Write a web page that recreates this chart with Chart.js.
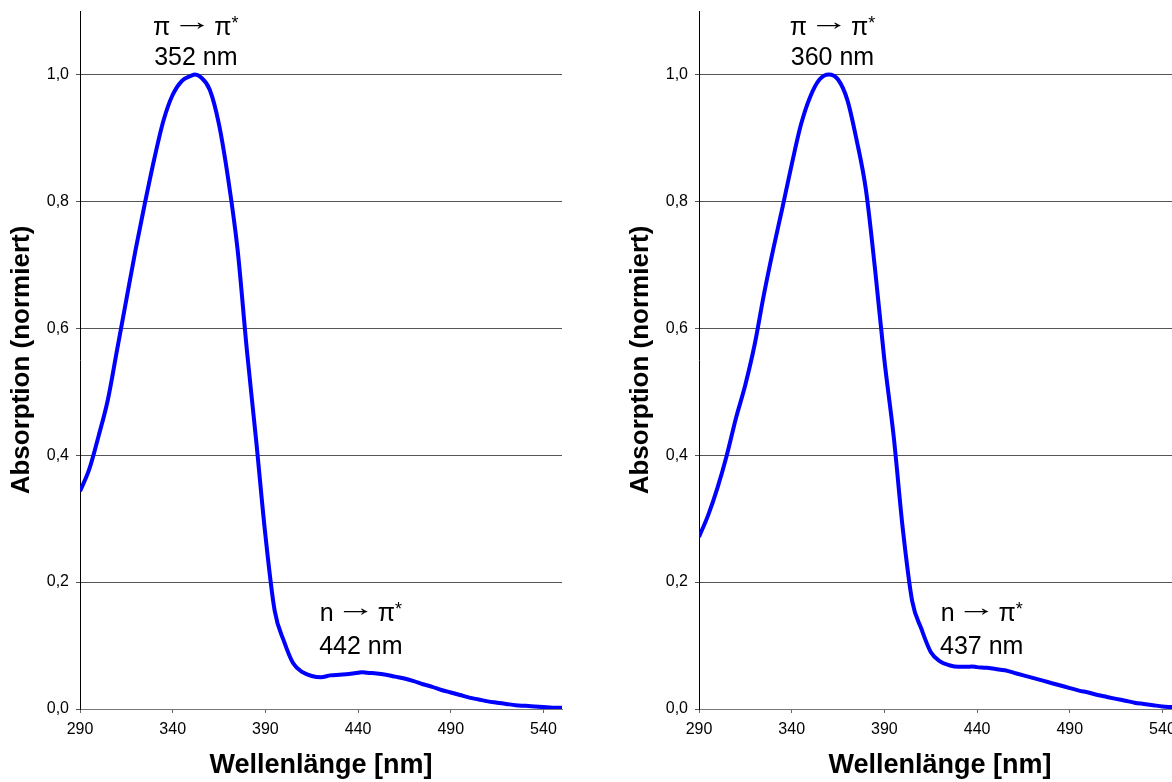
<!DOCTYPE html>
<html>
<head>
<meta charset="utf-8">
<title>UV/Vis-Spektren</title>
<script src="https://cdn.jsdelivr.net/npm/chart.js@4.4.1/dist/chart.umd.min.js"></script>
<style>
  html, body { margin: 0; padding: 0; background: #fff; overflow: hidden; width: 1172px; height: 782px; }
  .panel { position: absolute; top: 0; width: 600px; height: 782px; }
  #panelA { left: 0; }
  #panelB { left: 619px; }
</style>
</head>
<body>
<div class="panel" id="panelA"><canvas id="chartA" width="600" height="782"></canvas></div>
<div class="panel" id="panelB"><canvas id="chartB" width="600" height="782"></canvas></div>
<script>
// Spectrum A (maxima at 352 nm and 442 nm)
const wavelengthsA = [290, 295, 300, 305, 310, 315, 320, 325, 330, 335, 340, 345, 350, 352, 355, 360, 365, 370, 375, 380,
  385, 390, 395, 400, 405, 410, 415, 420, 425, 430, 435, 440, 442, 445, 450, 455, 460, 465, 470, 475,
  480, 485, 490, 495, 500, 505, 510, 515, 520, 525, 530, 535, 540, 545, 550];
const absorbanceA = [0.343, 0.378, 0.430, 0.487, 0.566, 0.645, 0.724, 0.797, 0.866, 0.927, 0.968, 0.990, 0.998, 1.000, 0.996, 0.976, 0.921, 0.834, 0.724, 0.566,
  0.424, 0.274, 0.155, 0.107, 0.072, 0.058, 0.052, 0.050, 0.053, 0.054, 0.055, 0.057, 0.058, 0.057, 0.056, 0.054, 0.051, 0.048, 0.044, 0.039,
  0.035, 0.030, 0.026, 0.022, 0.018, 0.015, 0.012, 0.010, 0.008, 0.006, 0.005, 0.004, 0.003, 0.002, 0.002];

// Spectrum B (maxima at 360 nm and 437 nm)
const wavelengthsB = [290, 295, 300, 305, 310, 315, 320, 325, 330, 335, 340, 345, 350, 355, 360, 365, 370, 375, 380, 385,
  390, 395, 400, 405, 410, 415, 420, 425, 430, 435, 437, 440, 445, 450, 455, 460, 465, 470, 475, 480,
  485, 490, 495, 500, 505, 510, 515, 520, 525, 530, 535, 540, 545, 550];
const absorbanceB = [0.271, 0.306, 0.349, 0.400, 0.459, 0.511, 0.574, 0.653, 0.724, 0.790, 0.858, 0.921, 0.965, 0.992, 1.000, 0.992, 0.960, 0.897, 0.819, 0.692,
  0.550, 0.430, 0.282, 0.170, 0.126, 0.090, 0.075, 0.069, 0.0665, 0.0665, 0.067, 0.066, 0.065, 0.063, 0.061, 0.057, 0.053, 0.049, 0.045, 0.041,
  0.037, 0.033, 0.029, 0.026, 0.022, 0.019, 0.016, 0.013, 0.010, 0.008, 0.006, 0.004, 0.003, 0.002];

// Axis ticks
const xTickValues = [290, 340, 390, 440, 490, 540];
const yTickValues = [0, 0.2, 0.4, 0.6, 0.8, 1.0];

// Band assignments: [from orbital, to orbital]
const transitionsA = [['π', 'π'], ['n', 'π']];
const bandMaximaA = ['352 nm', '442 nm'];
const transitionsB = [['π', 'π'], ['n', 'π']];
const bandMaximaB = ['360 nm', '437 nm'];

const FONT = '"Liberation Sans", Arial, Helvetica, sans-serif';
Chart.defaults.font.family = FONT;
Chart.defaults.color = '#000';

// Text anchors in data units (x = wavelength, y = baseline in absorbance units)
function bandLabelItems(transitions, maxima, xTop, xBottom) {
  return [
    { x: xTop, y: 1.062, transition: transitions[0] },
    { x: xTop, y: 1.015, text: maxima[0] },
    { x: xBottom, y: 0.1387, transition: transitions[1] },
    { x: xBottom, y: 0.0867, text: maxima[1] }
  ];
}

// "from → to*" with a long thin arrow and a raised asterisk
function drawTransition(ctx, pair, cx, baseline) {
  const big = '25px ' + FONT, small = '18px ' + FONT;
  const arrowStretch = 1.6, gap = 2;
  ctx.font = big;
  const wFrom = ctx.measureText(pair[0]).width;
  const wTo = ctx.measureText(pair[1]).width;
  const wArrow = ctx.measureText('→').width * arrowStretch;
  ctx.font = small;
  const wStar = ctx.measureText('*').width;
  const total = wFrom + gap + wArrow + gap + wTo + wStar;
  let x0 = cx - total / 2;
  ctx.font = big;
  ctx.fillText(pair[0], x0, baseline);
  x0 += wFrom + gap;
  ctx.save();
  ctx.translate(x0, baseline - 5);
  ctx.scale(arrowStretch, 1);
  ctx.fillText('→', 0, 0);
  ctx.restore();
  x0 += wArrow + gap;
  ctx.font = big;
  ctx.fillText(pair[1], x0, baseline);
  x0 += wTo;
  ctx.font = small;
  ctx.fillText('*', x0, baseline - 6);
}

function bandLabelPlugin(items) {
  return {
    id: 'bandLabels',
    afterDatasetsDraw(chart) {
      const { ctx, scales: { x, y } } = chart;
      ctx.save();
      ctx.fillStyle = '#000';
      ctx.textBaseline = 'alphabetic';
      ctx.textAlign = 'left';
      items.forEach(it => {
        const px = x.getPixelForValue(it.x);
        const py = y.getPixelForValue(it.y);
        if (it.transition) {
          drawTransition(ctx, it.transition, px, py);
        } else {
          ctx.font = '25px ' + FONT;
          const w = ctx.measureText(it.text).width;
          ctx.fillText(it.text, px - w / 2, py);
        }
      });
      ctx.restore();
    }
  };
}

function buildSpectrum(canvasId, xs, ys, labels) {
  const points = xs.map((v, i) => ({ x: v, y: ys[i] }));
  return new Chart(document.getElementById(canvasId), {
    type: 'line',
    data: {
      datasets: [{
        data: points,
        borderColor: '#0000ff',
        borderWidth: 4,
        pointRadius: 0,
        fill: false,
        cubicInterpolationMode: 'monotone'
      }]
    },
    options: {
      responsive: false,
      animation: false,
      devicePixelRatio: 1,
      layout: { padding: { top: 11, right: 38, bottom: 0, left: 0 } },
      plugins: { legend: { display: false }, tooltip: { enabled: false } },
      scales: {
        x: {
          type: 'linear',
          min: 290,
          max: 550,
          afterBuildTicks: s => { s.ticks = xTickValues.map(v => ({ value: v })); },
          afterFit: s => { s.height = 73; s.paddingLeft = 0; s.paddingRight = 0; },
          grid: { display: true, drawOnChartArea: false, drawTicks: true, tickLength: 4, color: '#666' },
          border: { display: true, color: '#777', width: 1 },
          ticks: { font: { size: 16 }, color: '#000', padding: 7, maxRotation: 0, autoSkip: false, callback: v => String(v) },
          title: { display: true, text: 'Wellenlänge [nm]', color: '#000', font: { size: 27, weight: 'bold' }, padding: { top: 0, bottom: 0 } }
        },
        y: {
          min: 0,
          max: 1.1,
          afterBuildTicks: s => { s.ticks = yTickValues.map(v => ({ value: v })); },
          afterFit: s => { s.width = 80; s.paddingTop = 0; s.paddingBottom = 0; },
          grid: { color: '#555', lineWidth: 1, drawTicks: true, tickLength: 4 },
          border: { display: true, color: '#000', width: 1 },
          ticks: { font: { size: 16 }, color: '#000', padding: 7, callback: v => v.toFixed(1).replace('.', ',') },
          title: { display: true, text: 'Absorption (normiert)', color: '#000', font: { size: 26, weight: 'bold' }, padding: { top: 6, bottom: 0 } }
        }
      }
    },
    plugins: [bandLabelPlugin(labels)]
  });
}

buildSpectrum('chartA', wavelengthsA, absorbanceA, bandLabelItems(transitionsA, bandMaximaA, 352.5, 441.5));
buildSpectrum('chartB', wavelengthsB, absorbanceB, bandLabelItems(transitionsB, bandMaximaB, 362, 442.5));
</script>
</body>
</html>
